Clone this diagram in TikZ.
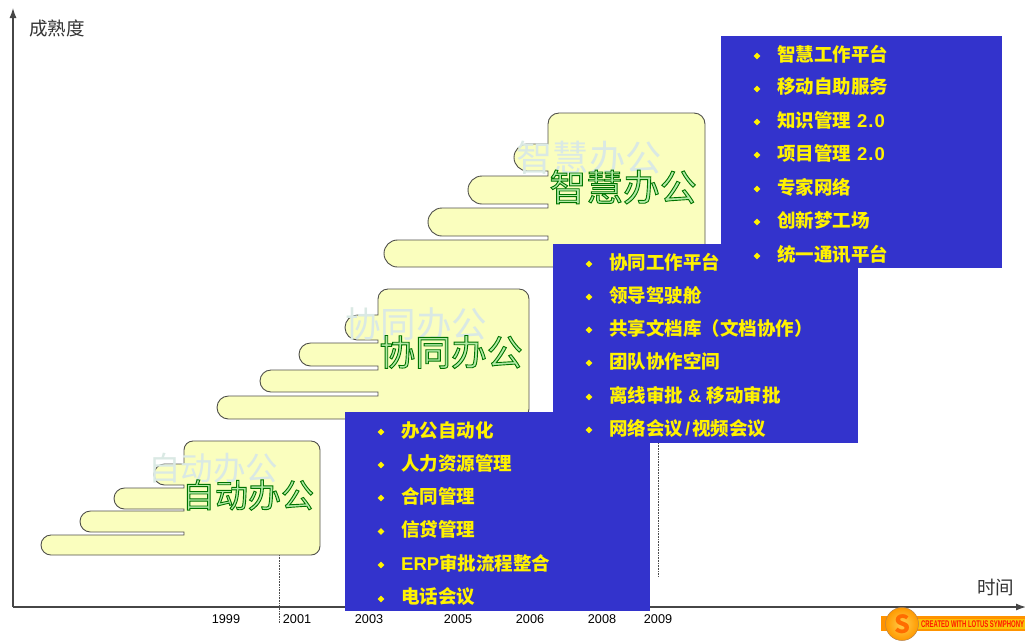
\documentclass[tikz,border=0pt]{standalone}
\usepackage{fontspec}
\setmainfont{Noto Sans CJK SC}
\newfontfamily\latinfont{Liberation Sans}
\usetikzlibrary{arrows.meta,shapes.geometric}
\definecolor{stairfill}{RGB}{250,254,190}
\definecolor{stairline}{RGB}{80,80,75}
\definecolor{listblue}{RGB}{51,51,204}
\definecolor{palename}{RGB}{218,233,228}
\definecolor{axisgray}{RGB}{70,70,70}
\newcommand{\outlined}[1]{\special{pdf:code q 2 Tr 0.9 w 0 0.45 0 RG 0.7 0.92 0.65 rg}#1\special{pdf:code Q}}
\newcommand{\lat}[1]{{\latinfont #1}}
\tikzset{
	stairblock/.style={draw=stairline,fill=stairfill,line width=0.9pt},
	listbox/.style={fill=listblue},
	listitem/.style={anchor=west,inner sep=0pt,text=yellow,font=\fontsize{18.5}{18.5}\selectfont\bfseries},
	listdot/.style={diamond,fill=yellow,inner sep=0pt,minimum size=7pt},
	palelabel/.style={inner sep=0pt,text=palename},
	yearlabel/.style={inner sep=0pt,font=\fontsize{12.7}{13}\selectfont\latinfont},
	axislabel/.style={inner sep=0pt,anchor=west,text=black!80,font=\fontsize{18.5}{18.5}\selectfont},
	axisline/.style={-{Latex[length=10pt,width=7pt]},draw=axisgray,line width=1.2pt},
	guideline/.style={densely dotted,draw=black!70,line width=0.6pt}
}
\begin{document}
\begin{tikzpicture}[x=1pt,y=-1pt]
	\useasboundingbox (0,0) rectangle (1025,641);
	%Assi
	\coordinate (origin) at (13,607);
	\coordinate (ytop) at (13,8);
	\coordinate (xend) at (1026,607);
	\draw [axisline] (origin) -- (ytop);
	\draw [axisline] (origin) -- (xend);
	\node [axislabel] (ylabel) at (29,28) {成熟度};
	\node [axislabel] (xlabel) at (977,588) {时间};
	%Anni
	\foreach \xpos/\yearname in {226/1999,297/2001,369/2003,458/2005,530/2006,602/2008,658/2009}
		\node [yearlabel] (year\yearname) at (\xpos,619) {\yearname};
	%Guide
	\coordinate (guideatop) at (279,555);
	\coordinate (guideabot) at (279,623);
	\coordinate (guidebtop) at (658,443);
	\coordinate (guidebbot) at (658,576);
	\draw [guideline] (guideatop) -- (guideabot);
	\draw [guideline] (guidebtop) -- (guidebbot);
	%Gradino 1
	\draw [stairblock] (184,464) [rounded corners=9] -- (184,441) -- (320,441) -- (320,555)
		[rounded corners=10] -- (41,555) -- (41,535) [sharp corners] -- (184,535) -- (184,532)
		[rounded corners=10.5] -- (80,532) -- (80,511) [sharp corners] -- (184,511) -- (184,509)
		[rounded corners=10.5] -- (114,509) -- (114,488) [sharp corners] -- (184,488) -- (184,485)
		[rounded corners=10.5] -- (154,485) -- (154,464) [sharp corners] -- cycle;
	%Gradino 2
	\draw [stairblock] (378,315) [rounded corners=10] -- (378,289) -- (529,289) -- (529,419)
		[rounded corners=11.5] -- (217,419) -- (217,396) [sharp corners] -- (378,396) -- (378,392)
		[rounded corners=11] -- (260,392) -- (260,370) [sharp corners] -- (378,370) -- (378,366)
		[rounded corners=11.5] -- (299,366) -- (299,343) [sharp corners] -- (378,343) -- (378,340)
		[rounded corners=12.5] -- (345,340) -- (345,315) [sharp corners] -- cycle;
	%Gradino 3
	\draw [stairblock] (548,144) [rounded corners=11] -- (548,113) -- (705,113) -- (705,267)
		[rounded corners=13.5] -- (384,267) -- (384,240) [sharp corners] -- (548,240) -- (548,236)
		[rounded corners=14] -- (428,236) -- (428,208) [sharp corners] -- (548,208) -- (548,204)
		[rounded corners=14] -- (468,204) -- (468,176) [sharp corners] -- (548,176) -- (548,171)
		[rounded corners=13.5] -- (514,171) -- (514,144) [sharp corners] -- cycle;
	%Nomi
	\node [palelabel,font=\fontsize{32.5}{33}\selectfont] (palea) at (213,468) {自动办公};
	\node [palelabel,font=\fontsize{35.5}{36}\selectfont] (paleb) at (416,324) {协同办公};
	\node [palelabel,font=\fontsize{36.2}{37}\selectfont] (palec) at (589,158) {智慧办公};
	\node [inner sep=0pt,font=\fontsize{33}{33}\selectfont] (namea) at (248,495) {\outlined{自动办公}};
	\node [inner sep=0pt,font=\fontsize{35.8}{36}\selectfont] (nameb) at (451,352) {\outlined{协同办公}};
	\node [inner sep=0pt,font=\fontsize{36.8}{37}\selectfont] (namec) at (623,187) {\outlined{智慧办公}};
	%Liste
	\fill [listbox] (345,412) rectangle (650,611);
	\fill [listbox] (553,244) rectangle (858,443);
	\fill [listbox] (721,36) rectangle (1002,268);
	\foreach \ypos/\itemname [count=\i] in {430/办公自动化,463/人力资源管理,496/合同管理,529.5/信贷管理,563/{\lat{ERP}审批流程整合},597/电话会议} {
		\node [listdot] (dota\i) at (381,\ypos+2) {};
		\node [listitem] (itema\i) at (401,\ypos) {\itemname};
	}
	\foreach \ypos/\itemname [count=\i] in {262/协同工作平台,295/领导驾驶舱,328/共享文档库（文档协作）,361/团队协作空间,395/{离线审批\hspace{5pt}\lat{\&}\hspace{5pt}移动审批},428/{网络会议\hspace{2pt}\lat{/}\hspace{2pt}视频会议}} {
		\node [listdot] (dotb\i) at (589,\ypos+2) {};
		\node [listitem] (itemb\i) at (609,\ypos) {\itemname};
	}
	\foreach \ypos/\itemname [count=\i] in {54/智慧工作平台,87/移动自助服务,120/{知识管理\hspace{6pt}\lat{2\kern1pt.\kern1pt0}},153/{项目管理\hspace{6pt}\lat{2\kern1pt.\kern1pt0}},187/专家网络,220/创新梦工场,254/统一通讯平台} {
		\node [listdot] (dotc\i) at (757,\ypos+2) {};
		\node [listitem] (itemc\i) at (777,\ypos) {\itemname};
	}
	%Logo
	\fill [orange!85!yellow] (881,616) rectangle (1025,631);
	\fill [yellow!55!orange] (916,619) rectangle (1025,629);
	\node [circle,inner color=yellow!45!orange!70,outer color=orange!80!yellow,draw=orange!60!black!70,line width=0.5pt,minimum size=33pt,inner sep=0pt,text=orange!85!red,font=\fontsize{25}{25}\selectfont\bfseries] (logo) at (902,624) {S};
	\node [inner sep=0pt,anchor=west,text=red!80!orange,xscale=0.615,font=\fontsize{9.7}{9.7}\selectfont\latinfont\bfseries] (logotext) at (921,624) {CREATED WITH LOTUS SYMPHONY};
\end{tikzpicture}
\end{document}
